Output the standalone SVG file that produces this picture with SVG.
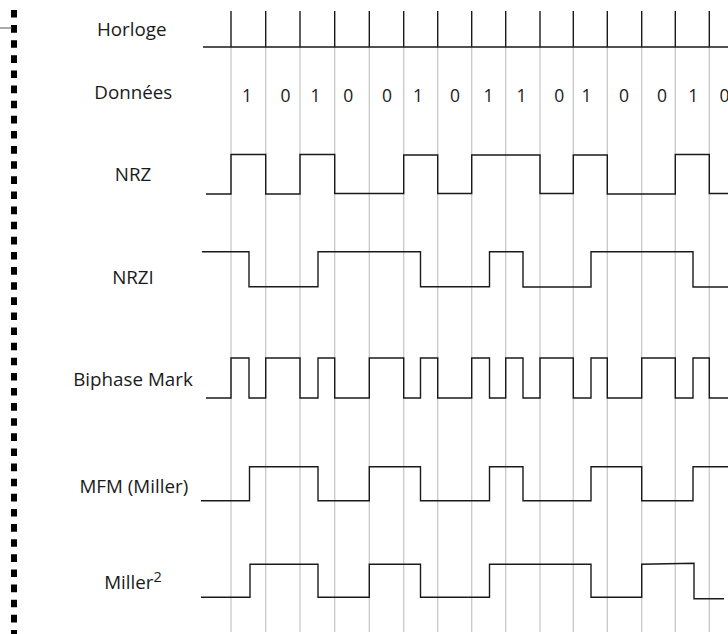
<svg xmlns="http://www.w3.org/2000/svg" width="728" height="634" viewBox="0 0 728 634">
<style>
.lbl{font-family:"Open Sans","Noto Sans",sans-serif;font-size:18.8px;fill:#1a1a1a;text-anchor:middle}
.bit{font-family:"Open Sans","Noto Sans",sans-serif;font-size:17.5px;fill:#1a1a1a;text-anchor:middle}
.grid{stroke:#c8c8c8;stroke-width:1.3;fill:none}
.wave{stroke:#1a1a1a;stroke-width:1.4;fill:none}
</style>
<rect width="728" height="634" fill="#ffffff"/>
<g id="border">
<line x1="14" y1="10" x2="14" y2="634" stroke="#000" stroke-width="6" stroke-dasharray="7.6 7.52"/>
<line x1="0" y1="28" x2="12" y2="28" stroke="#555" stroke-width="1"/>
</g>
<g id="grid" class="grid">
<path d="M231,47V632M265.7,47V632M300,47V632M334.7,47V632M369.3,47V632M403.7,47V632M437.7,47V632M471.7,47V632M505.7,47V632M540,47V632M573.3,47V632M607.3,47V632M641.7,47V632M675.3,47V632M709.3,47V632"/>
</g>
<g id="horloge">
<text class="lbl" x="131.7" y="36">Horloge</text>
<path class="wave" d="M203,47H728M231,11V47M265.7,11V47M300,11V47M334.7,11V47M369.3,11V47M403.7,11V47M437.7,11V47M471.7,11V47M505.7,11V47M540,11V47M573.3,11V47M607.3,11V47M641.7,11V47M675.3,11V47M709.3,11V47"/>
</g>
<g id="donnees">
<text class="lbl" x="133.3" y="99">Données</text>
<text class="bit" x="247" y="102">1</text>
<text class="bit" x="285.5" y="102">0</text>
<text class="bit" x="315.5" y="102">1</text>
<text class="bit" x="348.3" y="102">0</text>
<text class="bit" x="387" y="102">0</text>
<text class="bit" x="418" y="102">1</text>
<text class="bit" x="455" y="102">0</text>
<text class="bit" x="488.5" y="102">1</text>
<text class="bit" x="521.5" y="102">1</text>
<text class="bit" x="559.3" y="102">0</text>
<text class="bit" x="586.5" y="102">1</text>
<text class="bit" x="624" y="102">0</text>
<text class="bit" x="662" y="102">0</text>
<text class="bit" x="693.3" y="102">1</text>
<text class="bit" x="724.5" y="102">0</text>
</g>
<g id="nrz">
<text class="lbl" x="133" y="181">NRZ</text>
<path class="wave" d="M206,194H231V154.5H265.7V194H300V154.5H334.7V193.5H403.7V155H437.7V193.5H471.7V155H540V193.5H573.3V155H607.3V194H675.3V154.5H709.3V193.5H728"/>
</g>
<g id="nrzi">
<text class="lbl" x="133" y="284">NRZI</text>
<path class="wave" d="M202,251.7H249V286.7H318V251.7H420.5V286.7H489.5V251.7H523V287H591V251.7H693V287H728"/>
</g>
<g id="biphase">
<text class="lbl" x="133" y="386">Biphase Mark</text>
<path class="wave" d="M206,398H231V358H249V398H265.7V358H300V398H318V358H334.7V398H369.3V358H403.7V398H420.5V358H437.7V398H471.7V358H489.5V398H505.7V358H523V398H540V358H573.3V398H591V358H607.3V398H641.7V358H675.3V398H693V358H709.3V398H728"/>
</g>
<g id="mfm">
<text class="lbl" x="133.8" y="493">MFM (Miller)</text>
<path class="wave" d="M201,500.7H249.5V466.7H318V500.7H369.3V466.7H420.5V500.7H489.5V466.7H523V500.7H591V466.7H641.7V500.7H693V466.7H728"/>
</g>
<g id="miller2">
<text class="lbl" x="133" y="589">Miller<tspan font-size="14.5" dy="-7">2</tspan></text>
<path class="wave" d="M201,597.3H250V564.3H318V597.3H369.3V564.3H420.5V597.3H489.5V564.3H591V597.3H641.7V564.3L694,563.3V598.7H724"/>
</g>
</svg>
